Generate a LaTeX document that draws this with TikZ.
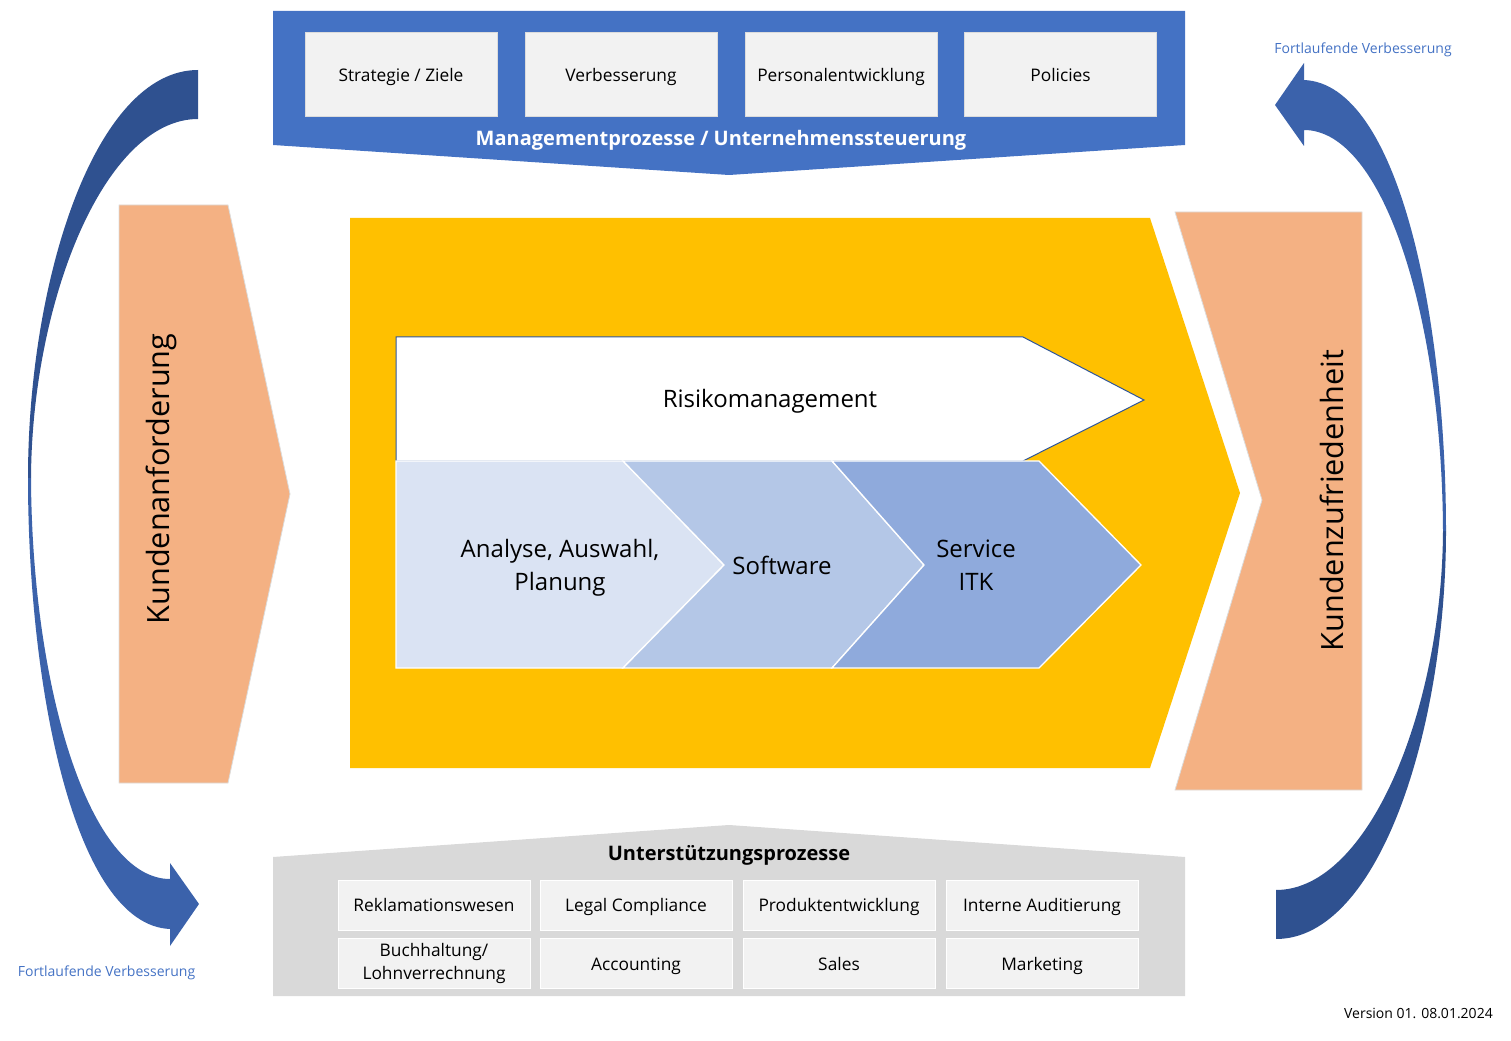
\documentclass[tikz,border=0pt]{standalone}
\usepackage{fontspec}
\setmainfont{Open Sans}
\definecolor{mblue}{HTML}{4472C4}
\definecolor{myellow}{HTML}{FFC000}
\definecolor{morange}{HTML}{F4B183}
\definecolor{mgray}{HTML}{D9D9D9}
\definecolor{boxfill}{HTML}{F2F2F2}
\definecolor{boxedge}{HTML}{DCDCDC}
\definecolor{rborder}{HTML}{2F5597}
\definecolor{chevA}{HTML}{DAE3F3}
\definecolor{chevB}{HTML}{B4C7E7}
\definecolor{chevC}{HTML}{8FAADC}
\definecolor{adark}{HTML}{2F5190}
\definecolor{alight}{HTML}{3B62AB}
\begin{document}
\begin{tikzpicture}[x=0.75pt,y=-0.75pt,
  lab/.style={inner sep=0pt, align=center, text=black},
  topbox/.style={draw=boxedge, fill=boxfill, line width=0.75pt, minimum width=144pt, minimum height=63pt, inner sep=0pt, align=center, font=\fontsize{13}{17}\selectfont},
  botbox/.style={draw=white, fill=boxfill, line width=0.75pt, minimum width=144pt, minimum height=37.5pt, inner sep=0pt, align=center, font=\fontsize{13}{17}\selectfont},
  oneline/.style={text height=1.04em, text depth=0pt},
  bigtitle/.style={inner sep=0pt, text height=1.1em, text depth=0pt, font=\bfseries\fontsize{15}{18}\selectfont},
  chevtext/.style={lab, font=\fontsize{18}{24.5}\selectfont},
  sidetext/.style={inner sep=0pt, rotate=90, anchor=base, font=\fontsize{23}{28}\selectfont},
  smallblue/.style={inner sep=0pt, text=mblue, font=\fontsize{10.5}{13}\selectfont},
  chevron/.style={draw=white, line width=1pt}]
\useasboundingbox (0,0) rectangle (1511,1041);

% left curved arrow (tail top, head bottom)
\fill[adark] (198,70) .. controls (95,70) and (28,280) .. (28,478)
   -- (31,478) .. controls (32,300) and (105,119) .. (198,119) -- cycle;
\fill[alight] (28,478) .. controls (28,690) and (75,925) .. (170,929)
   -- (170,946) -- (199,904) -- (170,863) -- (170,879)
   .. controls (90,879) and (32,690) .. (31,478) -- cycle;

% right curved arrow (tail bottom, head top)
\fill[adark] (1276,939) .. controls (1379,939) and (1446,729) .. (1446,531)
   -- (1443,531) .. controls (1442,709) and (1369,890) .. (1276,890) -- cycle;
\fill[alight] (1446,531) .. controls (1446,319) and (1399,84) .. (1304,80)
   -- (1304,63) -- (1275,105) -- (1304,146) -- (1304,130)
   .. controls (1384,130) and (1442,319) .. (1443,531) -- cycle;

% top banner
\fill[mblue] (273,11) -- (1185,11) -- (1185,145) -- (729,175) -- (273,145) -- cycle;
\node[topbox, oneline] (t1) at (401,75) {Strategie / Ziele};
\node[topbox, oneline] (t2) at (621,75) {Verbesserung};
\node[topbox, oneline] (t3) at (841,75) {Personalentwicklung};
\node[topbox, oneline] (t4) at (1060.5,75) {Policies};
\node[bigtitle, text=white] (ttitle) at (721,138) {Managementprozesse / Unternehmenssteuerung};

% left orange
\filldraw[fill=morange, draw=boxedge, line width=0.6pt] (119,205) -- (228,205) -- (290,494) -- (228,783) -- (119,783) -- cycle;
\node[sidetext] (kanf) at (169,479) {Kundenanforderung};

% central yellow
\fill[myellow] (350,218) -- (1150,218) -- (1240,493) -- (1150,768) -- (350,768) -- cycle;

% right orange
\filldraw[fill=morange, draw=boxedge, line width=0.6pt] (1175,212) -- (1362,212) -- (1362,790) -- (1175,790) -- (1262,500) -- cycle;
\node[sidetext] (kzuf) at (1343,500.5) {Kundenzufriedenheit};

% Risikomanagement
\filldraw[fill=white, draw=rborder, line width=0.75pt] (396,337) -- (1023,337) -- (1144,400) -- (1023,461) -- (396,461) -- cycle;
\node[chevtext, oneline] (risk) at (770,401) {Risikomanagement};

% chevrons
\filldraw[chevron, fill=chevA] (396,461) -- (623,461) -- (724,565) -- (623,668) -- (396,668) -- cycle;
\filldraw[chevron, fill=chevB] (623,461) -- (832,461) -- (924,565) -- (832,668) -- (623,668) -- (724,565) -- cycle;
\filldraw[chevron, fill=chevC] (832,461) -- (1039,461) -- (1141,565) -- (1039,668) -- (832,668) -- (924,565) -- cycle;
\node[chevtext] (c1) at (560,568) {Analyse, Auswahl,\\Planung};
\node[chevtext, oneline] (c2) at (782,568) {Software};
\node[chevtext] (c3) at (976,565) {Service\\ITK};

% bottom support
\fill[mgray] (273,857) -- (729,825) -- (1185,857) -- (1185,996) -- (273,996) -- cycle;
\node[bigtitle, text=black] (btitle) at (729,853) {Unterstützungsprozesse};
\node[botbox, oneline] (b1) at (434,905) {Reklamationswesen};
\node[botbox, oneline] (b2) at (636,905) {Legal Compliance};
\node[botbox, oneline] (b3) at (839,905) {Produktentwicklung};
\node[botbox, oneline] (b4) at (1042,905) {Interne Auditierung};
\node[botbox] (b5) at (434,963.5) {Buchhaltung/\\Lohnverrechnung};
\node[botbox, oneline] (b6) at (636,963.5) {Accounting};
\node[botbox, oneline] (b7) at (839,963.5) {Sales};
\node[botbox, oneline] (b8) at (1042,963.5) {Marketing};

% labels
\node[smallblue] (fvl) at (106.5,973) {Fortlaufende Verbesserung};
\node[smallblue] (fvr) at (1363,50) {Fortlaufende Verbesserung};
\node[inner sep=0pt, anchor=east, font=\fontsize{10.5}{13}\selectfont] (ver) at (1493,1013) {Version 01. 08.01.2024};
\end{tikzpicture}
\end{document}
